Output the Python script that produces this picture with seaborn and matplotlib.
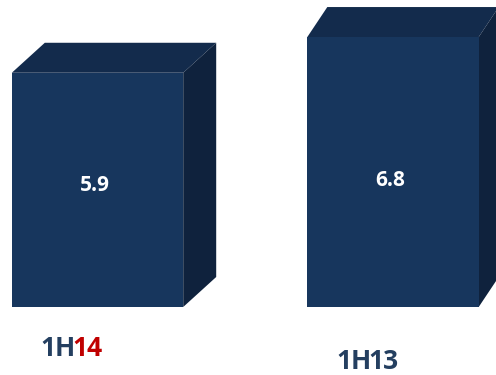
import matplotlib
matplotlib.use("Agg")
import matplotlib.pyplot as plt
import seaborn as sns
from matplotlib.patches import Polygon

categories = ["1H14", "1H13"]
values = [5.9, 6.8]
label_prefix = ["1H", "1H"]
label_suffix = ["14", "13"]

FRONT = "#17365D"
TOP = "#132B4C"
SIDE = "#0F223D"
NAVY_TXT = "#243F60"
RED_TXT = "#C00000"

sns.set_theme(style="white")
plt.rcParams['font.family'] = ['Open Sans', 'DejaVu Sans']

W, H = 496, 375
fig = plt.figure(figsize=(W / 100, H / 100), dpi=100)
ax = fig.add_axes([0, 0, 1, 1])

sns.barplot(x=categories, y=values, width=0.58, color=FRONT, saturation=1,
            ax=ax, linewidth=0, zorder=3)
ax.axis("off")

sx = 295.5  # px per x unit
sy = 39.7   # px per y unit
x0_px = 97.5
base_px = 307
ax.set_xlim(-x0_px / sx, (W - x0_px) / sx)
ax.set_ylim(-(H - base_px) / sy, base_px / sy)

depth_dx_px = [33, 20]
depth_dy_px = 30
label_suffix_colors = [RED_TXT, NAVY_TXT]
label_y_axes = [0.036, 0.0]
value_y_frac = [0.52, 0.47]

for i, bar in enumerate(ax.patches[:len(values)]):
    x = bar.get_x()
    w = bar.get_width()
    h = bar.get_height()
    dx = depth_dx_px[i] / sx
    dy = depth_dy_px / sy
    top = Polygon([(x, h), (x + dx, h + dy), (x + w + dx, h + dy), (x + w, h)],
                  closed=True, facecolor=TOP, edgecolor="none", zorder=2)
    side = Polygon([(x + w, 0), (x + w + dx, dy), (x + w + dx, h + dy), (x + w, h)],
                   closed=True, facecolor=SIDE, edgecolor="none", zorder=2)
    ax.add_patch(top)
    ax.add_patch(side)
    cx = x + w / 2 - 3 / sx
    ax.text(cx, h * value_y_frac[i], f"{values[i]:.1f}", ha="center", va="center",
            color="white", fontsize=15, fontweight="bold", zorder=5)
    start = x + w / 2 - 57 / sx
    t1 = ax.text(start, label_y_axes[i], label_prefix[i], ha="left", va="bottom",
                 transform=ax.get_xaxis_transform(), color=NAVY_TXT,
                 fontsize=19, fontweight="bold", zorder=6)
    ax.annotate(label_suffix[i], xy=(1, 0), xycoords=t1, xytext=(-2.2, 0),
                textcoords="offset points", ha="left", va="bottom",
                color=label_suffix_colors[i], fontsize=19, fontweight="bold",
                zorder=6)

fig.savefig("out.png", dpi=100, facecolor="white")
